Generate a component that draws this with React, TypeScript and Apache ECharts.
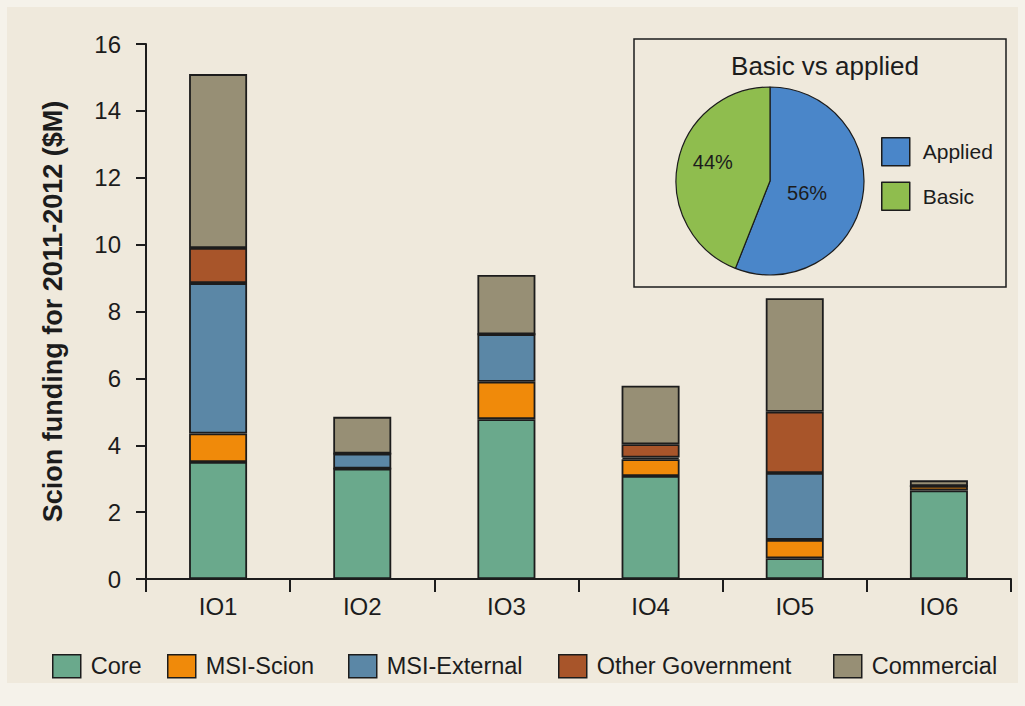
import React, { useEffect, useRef } from "react";
import * as echarts from "echarts";

// Funding by investment outcome, $M for 2011-2012
const categories = ["IO1", "IO2", "IO3", "IO4", "IO5", "IO6"];
const seriesNames = ["Core", "MSI-Scion", "MSI-External", "Other Government", "Commercial"];
const core = [3.5, 3.3, 4.78, 3.08, 0.62, 2.65];
const msiScion = [0.85, 0, 1.12, 0.5, 0.55, 0.13];
const msiExternal = [4.5, 0.45, 1.42, 0.05, 2.0, 0];
const otherGovernment = [1.05, 0, 0, 0.4, 1.83, 0];
const commercial = [5.2, 1.1, 1.77, 1.75, 3.4, 0.17];
const yTicks = { min: 0, max: 16, interval: 2 };

// Inset pie: basic vs applied research share (%)
const pieNames = ["Applied", "Basic"];
const pieValues = [56, 44];

const barColors = ["#6aa98c", "#f08a0a", "#5b87a6", "#a8552a", "#978f75"];
const pieColors = ["#4a86c9", "#8fbd4e"];
const FONT = "'Liberation Sans', Arial, Helvetica, sans-serif";
const INK = "#1c1c1c";

const legendLefts = [52, 167, 348, 558, 833];
const pieLabelOffsets = [[-12, 3], [-8, -10]];

export default function App() {
  const ref = useRef<HTMLDivElement>(null);

  useEffect(() => {
    if (!ref.current) return;
    const chart = echarts.init(ref.current, undefined, { renderer: "svg" });
    const values = [core, msiScion, msiExternal, otherGovernment, commercial];

    const barSeries = seriesNames.map((name, i) => ({
      name,
      type: "bar",
      stack: "total",
      barWidth: 58,
      data: values[i],
      itemStyle: { color: barColors[i], borderColor: INK, borderWidth: 1.8 },
      emphasis: { disabled: true },
    }));

    const barLegends = seriesNames.map((name, i) => ({
      data: [name],
      icon: "rect",
      left: legendLefts[i],
      top: 654,
      itemWidth: 28,
      itemHeight: 23,
      padding: 0,
      selectedMode: false,
      itemStyle: { borderColor: INK, borderWidth: 1.5 },
      textStyle: { fontFamily: FONT, fontSize: 23.5, color: INK, padding: [0, 0, 0, 5] },
    }));

    chart.setOption({
      animation: false,
      backgroundColor: "#f5f2ea",
      textStyle: { fontFamily: FONT },
      graphic: [
        {
          type: "rect",
          z: -10,
          shape: { x: 7, y: 7, width: 1011, height: 676 },
          style: { fill: "#efe9dc" },
          silent: true,
        },
        {
          type: "rect",
          z: 0,
          shape: { x: 634, y: 39, width: 372, height: 248 },
          style: { fill: "#efe9dc", stroke: INK, lineWidth: 1.5 },
          silent: true,
        },
        {
          type: "text",
          z: 5,
          x: 825,
          y: 66,
          style: {
            text: "Basic vs applied",
            font: `26px ${FONT}`,
            fill: INK,
            textAlign: "center",
            textVerticalAlign: "middle",
            align: "center",
            verticalAlign: "middle",
          },
          silent: true,
        },
      ],
      grid: { left: 146, right: 14, top: 44, bottom: 127, containLabel: false },
      xAxis: {
        type: "category",
        data: categories,
        axisLine: { lineStyle: { color: INK, width: 2 } },
        axisTick: { show: true, length: 13, lineStyle: { color: INK, width: 2 } },
        axisLabel: { color: INK, fontSize: 24, margin: 15, fontFamily: FONT },
      },
      yAxis: {
        type: "value",
        min: yTicks.min,
        max: yTicks.max,
        interval: yTicks.interval,
        name: "Scion funding for 2011-2012 ($M)",
        nameLocation: "middle",
        nameGap: 80,
        nameTextStyle: { fontSize: 27, fontWeight: "bold", color: INK, fontFamily: FONT },
        axisLine: { show: true, lineStyle: { color: INK, width: 2 } },
        axisTick: { show: true, length: 10, lineStyle: { color: INK, width: 2 } },
        axisLabel: { color: INK, fontSize: 24, margin: 25, fontFamily: FONT },
        splitLine: { show: false },
      },
      legend: [
        ...barLegends,
        {
          data: pieNames,
          icon: "rect",
          orient: "vertical",
          left: 881,
          top: 137,
          itemWidth: 28,
          itemHeight: 28,
          itemGap: 15,
          padding: 0,
          selectedMode: false,
          itemStyle: { borderColor: INK, borderWidth: 1.5 },
          textStyle: { fontFamily: FONT, fontSize: 21, color: INK, padding: [0, 0, 0, 8] },
        },
      ],
      series: [
        ...barSeries,
        {
          name: "Basic vs applied",
          type: "pie",
          z: 3,
          center: [770, 181],
          radius: 94,
          startAngle: 90,
          clockwise: true,
          data: pieNames.map((n, i) => ({
            name: n,
            value: pieValues[i],
            itemStyle: { color: pieColors[i] },
            label: { offset: pieLabelOffsets[i] },
          })),
          itemStyle: { borderColor: INK, borderWidth: 1.2 },
          label: {
            show: true,
            position: "inner",
            formatter: "{c}%",
            fontSize: 20,
            color: INK,
            fontFamily: FONT,
          },
          labelLine: { show: false },
          emphasis: { disabled: true },
        },
      ],
    });

    return () => chart.dispose();
  }, []);

  return (
    <div
      ref={ref}
      style={{ position: "fixed", left: 0, top: 0, width: 1025, height: 706 }}
    />
  );
}
